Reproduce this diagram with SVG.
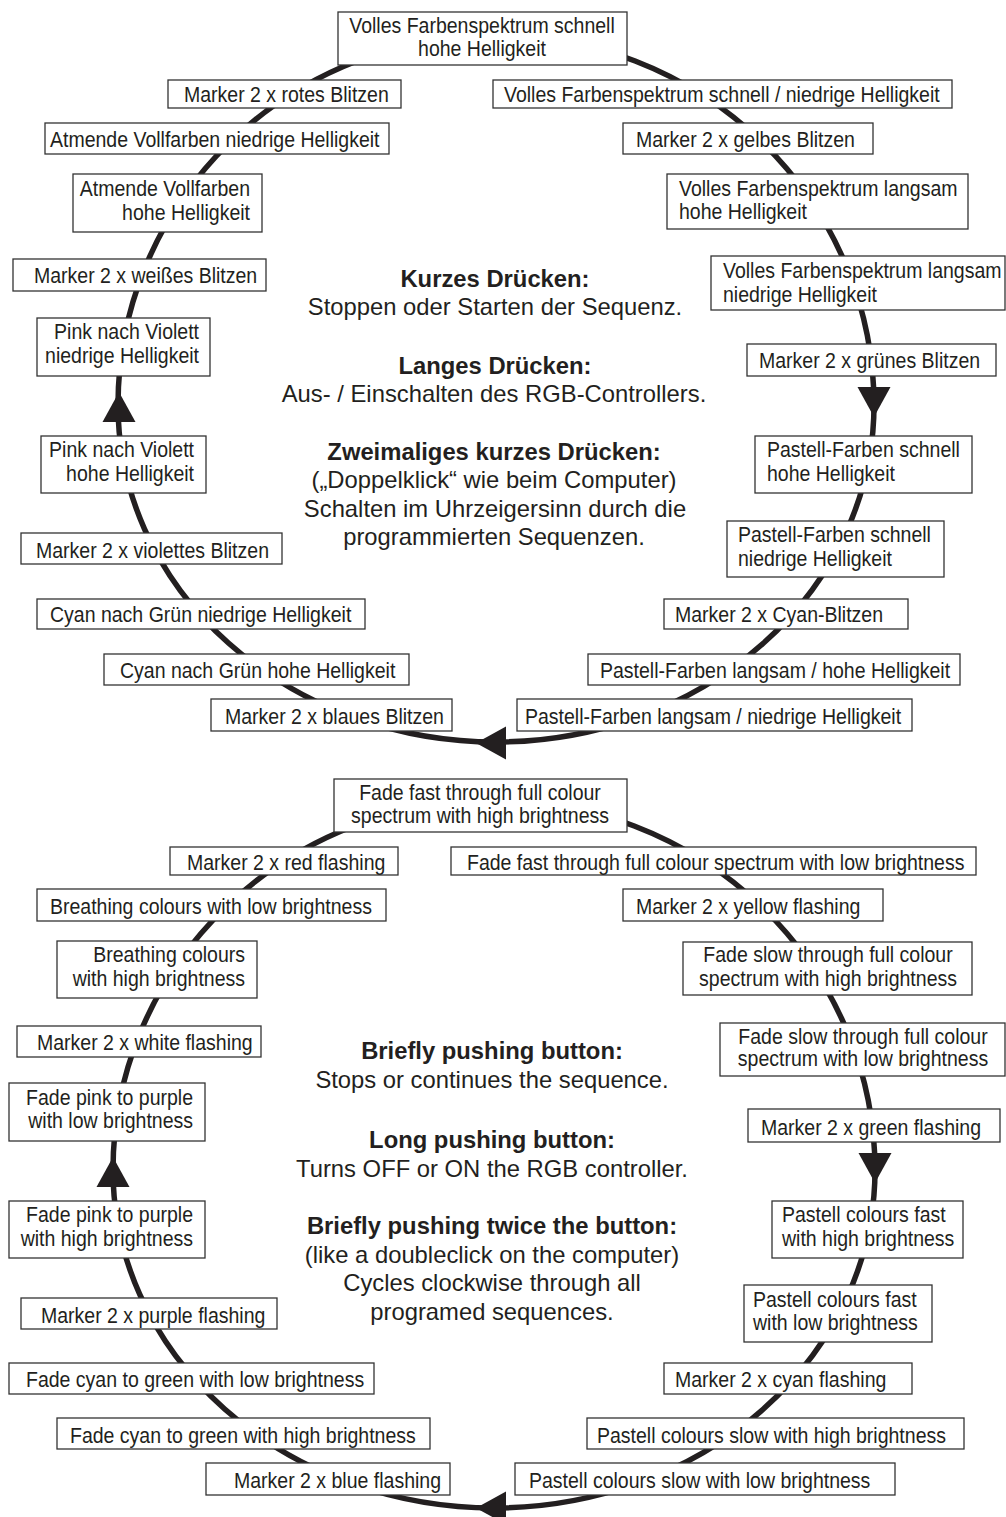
<svg xmlns="http://www.w3.org/2000/svg" xmlns:xlink="http://www.w3.org/1999/xlink" width="1006" height="1517" viewBox="0 0 1006 1517">
<style>
.bg{fill:#ffffff}
.box{fill:#ffffff;stroke:#333333;stroke-width:1.3}
.t{font-family:"Liberation Sans",Arial,sans-serif;font-size:22.5px;fill:#231f20}
.m{text-anchor:middle}
.e{text-anchor:end}
.c{font-family:"Liberation Sans",Arial,sans-serif;font-size:23.8px;fill:#231f20;text-anchor:middle}
.b{font-weight:bold}
.loop{fill:none;stroke:#231f20;stroke-width:5.5}
.ah{fill:#231f20}
</style>
<defs>
<path id="ah" d="M0,0 L-30,-16.5 L-30,16.5 Z"/>
</defs>
<rect class="bg" x="0" y="0" width="1006" height="1517"/>
<g id="connectors">
<path class="loop" d="M118,405 A378,370 0 0 1 874,405 A378,337 0 0 1 118,405 Z"/>
<path class="loop" d="M113,1170 A381,370 0 0 1 875,1170 A381,338 0 0 1 113,1170 Z"/>
<use class="ah" xlink:href="#ah" transform="translate(119,392) rotate(-90)"/>
<use class="ah" xlink:href="#ah" transform="translate(874,417) rotate(90)"/>
<use class="ah" xlink:href="#ah" transform="translate(476,743) rotate(180)"/>
<use class="ah" xlink:href="#ah" transform="translate(113,1157) rotate(-90)"/>
<use class="ah" xlink:href="#ah" transform="translate(875,1183) rotate(90)"/>
<use class="ah" xlink:href="#ah" transform="translate(476,1508) rotate(180)"/>
</g>
<g id="n1"><rect class="box" x="338" y="12" width="289" height="53"/><text class="t m" transform="matrix(.867 0 0 1 482 33)">Volles Farbenspektrum schnell</text><text class="t m" transform="matrix(.867 0 0 1 482 56)">hohe Helligkeit</text></g>
<g id="n2"><rect class="box" x="493" y="80" width="459" height="28"/><text class="t" transform="matrix(.867 0 0 1 504 102)">Volles Farbenspektrum schnell / niedrige Helligkeit</text></g>
<g id="n3"><rect class="box" x="623" y="123" width="250" height="31"/><text class="t" transform="matrix(.867 0 0 1 636 147)">Marker 2 x gelbes Blitzen</text></g>
<g id="n4"><rect class="box" x="667" y="174" width="301" height="55"/><text class="t" transform="matrix(.867 0 0 1 679 196)">Volles Farbenspektrum langsam</text><text class="t" transform="matrix(.867 0 0 1 679 219)">hohe Helligkeit</text></g>
<g id="n5"><rect class="box" x="711" y="256" width="294" height="54"/><text class="t" transform="matrix(.867 0 0 1 723 278)">Volles Farbenspektrum langsam</text><text class="t" transform="matrix(.867 0 0 1 723 302)">niedrige Helligkeit</text></g>
<g id="n6"><rect class="box" x="747" y="344" width="249" height="32"/><text class="t" transform="matrix(.867 0 0 1 759 368)">Marker 2 x grünes Blitzen</text></g>
<g id="n7"><rect class="box" x="755" y="436" width="217" height="57"/><text class="t" transform="matrix(.867 0 0 1 767 457)">Pastell-Farben schnell</text><text class="t" transform="matrix(.867 0 0 1 767 481)">hohe Helligkeit</text></g>
<g id="n8"><rect class="box" x="727" y="521" width="217" height="56"/><text class="t" transform="matrix(.867 0 0 1 738 542)">Pastell-Farben schnell</text><text class="t" transform="matrix(.867 0 0 1 738 566)">niedrige Helligkeit</text></g>
<g id="n9"><rect class="box" x="664" y="599" width="244" height="30"/><text class="t" transform="matrix(.867 0 0 1 675 622)">Marker 2 x Cyan-Blitzen</text></g>
<g id="n10"><rect class="box" x="588" y="654" width="372" height="31"/><text class="t" transform="matrix(.867 0 0 1 600 678)">Pastell-Farben langsam / hohe Helligkeit</text></g>
<g id="n11"><rect class="box" x="517" y="699" width="395" height="32"/><text class="t" transform="matrix(.867 0 0 1 525 724)">Pastell-Farben langsam / niedrige Helligkeit</text></g>
<g id="n12"><rect class="box" x="211" y="699" width="241" height="32"/><text class="t" transform="matrix(.867 0 0 1 225 724)">Marker 2 x blaues Blitzen</text></g>
<g id="n13"><rect class="box" x="104" y="654" width="305" height="31"/><text class="t" transform="matrix(.867 0 0 1 120 678)">Cyan nach Grün hohe Helligkeit</text></g>
<g id="n14"><rect class="box" x="37" y="599" width="328" height="30"/><text class="t" transform="matrix(.867 0 0 1 50 622)">Cyan nach Grün niedrige Helligkeit</text></g>
<g id="n15"><rect class="box" x="21" y="533" width="261" height="31"/><text class="t" transform="matrix(.867 0 0 1 36 558)">Marker 2 x violettes Blitzen</text></g>
<g id="n16"><rect class="box" x="41" y="436" width="165" height="57"/><text class="t e" transform="matrix(.867 0 0 1 194 457)">Pink nach Violett</text><text class="t e" transform="matrix(.867 0 0 1 194 481)">hohe Helligkeit</text></g>
<g id="n17"><rect class="box" x="37" y="318" width="173" height="58"/><text class="t e" transform="matrix(.867 0 0 1 199 339)">Pink nach Violett</text><text class="t e" transform="matrix(.867 0 0 1 199 363)">niedrige Helligkeit</text></g>
<g id="n18"><rect class="box" x="13" y="259" width="253" height="32"/><text class="t" transform="matrix(.867 0 0 1 34 283)">Marker 2 x weißes Blitzen</text></g>
<g id="n19"><rect class="box" x="73" y="174" width="189" height="58"/><text class="t e" transform="matrix(.867 0 0 1 250 196)">Atmende Vollfarben</text><text class="t e" transform="matrix(.867 0 0 1 250 220)">hohe Helligkeit</text></g>
<g id="n20"><rect class="box" x="45" y="123" width="344" height="31"/><text class="t" transform="matrix(.867 0 0 1 50 147)">Atmende Vollfarben niedrige Helligkeit</text></g>
<g id="n21"><rect class="box" x="168" y="80" width="233" height="28"/><text class="t" transform="matrix(.867 0 0 1 184 102)">Marker 2 x rotes Blitzen</text></g>
<g id="legend-de">
<text class="c b" x="495" y="287">Kurzes Drücken:</text>
<text class="c" x="495" y="315">Stoppen oder Starten der Sequenz.</text>
<text class="c b" x="495" y="374">Langes Drücken:</text>
<text class="c" x="494" y="402">Aus- / Einschalten des RGB-Controllers.</text>
<text class="c b" x="494" y="460">Zweimaliges kurzes Drücken:</text>
<text class="c" x="494" y="488">(„Doppelklick“ wie beim Computer)</text>
<text class="c" x="495" y="517">Schalten im Uhrzeigersinn durch die</text>
<text class="c" x="494" y="545">programmierten Sequenzen.</text>
</g>
<g id="e1"><rect class="box" x="334" y="779" width="293" height="53"/><text class="t m" transform="matrix(.867 0 0 1 480 800)">Fade fast through full colour</text><text class="t m" transform="matrix(.867 0 0 1 480 823)">spectrum with high brightness</text></g>
<g id="e2"><rect class="box" x="451" y="847" width="525" height="28"/><text class="t" transform="matrix(.867 0 0 1 467 870)">Fade fast through full colour spectrum with low brightness</text></g>
<g id="e3"><rect class="box" x="623" y="889" width="260" height="32"/><text class="t" transform="matrix(.867 0 0 1 636 914)">Marker 2 x yellow flashing</text></g>
<g id="e4"><rect class="box" x="683" y="942" width="289" height="53"/><text class="t m" transform="matrix(.867 0 0 1 828 962)">Fade slow through full colour</text><text class="t m" transform="matrix(.867 0 0 1 828 986)">spectrum with high brightness</text></g>
<g id="e5"><rect class="box" x="720" y="1023" width="285" height="53"/><text class="t m" transform="matrix(.867 0 0 1 863 1044)">Fade slow through full colour</text><text class="t m" transform="matrix(.867 0 0 1 863 1066)">spectrum with low brightness</text></g>
<g id="e6"><rect class="box" x="748" y="1109" width="252" height="33"/><text class="t" transform="matrix(.867 0 0 1 761 1135)">Marker 2 x green flashing</text></g>
<g id="e7"><rect class="box" x="772" y="1201" width="191" height="57"/><text class="t" transform="matrix(.867 0 0 1 782 1222)">Pastell colours fast</text><text class="t" transform="matrix(.867 0 0 1 782 1246)">with high brightness</text></g>
<g id="e8"><rect class="box" x="744" y="1285" width="188" height="57"/><text class="t" transform="matrix(.867 0 0 1 753 1307)">Pastell colours fast</text><text class="t" transform="matrix(.867 0 0 1 753 1330)">with low brightness</text></g>
<g id="e9"><rect class="box" x="664" y="1363" width="248" height="31"/><text class="t" transform="matrix(.867 0 0 1 675 1387)">Marker 2 x cyan flashing</text></g>
<g id="e10"><rect class="box" x="587" y="1418" width="377" height="31"/><text class="t" transform="matrix(.867 0 0 1 597 1443)">Pastell colours slow with high brightness</text></g>
<g id="e11"><rect class="box" x="515" y="1463" width="380" height="32"/><text class="t" transform="matrix(.867 0 0 1 529 1488)">Pastell colours slow with low brightness</text></g>
<g id="e12"><rect class="box" x="206" y="1463" width="244" height="32"/><text class="t" transform="matrix(.867 0 0 1 234 1488)">Marker 2 x blue flashing</text></g>
<g id="e13"><rect class="box" x="57" y="1418" width="373" height="31"/><text class="t" transform="matrix(.867 0 0 1 70 1443)">Fade cyan to green with high brightness</text></g>
<g id="e14"><rect class="box" x="9" y="1363" width="365" height="31"/><text class="t" transform="matrix(.867 0 0 1 26 1387)">Fade cyan to green with low brightness</text></g>
<g id="e15"><rect class="box" x="21" y="1298" width="256" height="31"/><text class="t" transform="matrix(.867 0 0 1 41 1323)">Marker 2 x purple flashing</text></g>
<g id="e16"><rect class="box" x="9" y="1201" width="196" height="57"/><text class="t e" transform="matrix(.867 0 0 1 193 1222)">Fade pink to purple</text><text class="t e" transform="matrix(.867 0 0 1 193 1246)">with high brightness</text></g>
<g id="e17"><rect class="box" x="9" y="1083" width="196" height="58"/><text class="t e" transform="matrix(.867 0 0 1 193 1105)">Fade pink to purple</text><text class="t e" transform="matrix(.867 0 0 1 193 1128)">with low brightness</text></g>
<g id="e18"><rect class="box" x="17" y="1026" width="244" height="31"/><text class="t" transform="matrix(.867 0 0 1 37 1050)">Marker 2 x white flashing</text></g>
<g id="e19"><rect class="box" x="57" y="941" width="200" height="57"/><text class="t e" transform="matrix(.867 0 0 1 245 962)">Breathing colours</text><text class="t e" transform="matrix(.867 0 0 1 245 986)">with high brightness</text></g>
<g id="e20"><rect class="box" x="37" y="889" width="349" height="32"/><text class="t" transform="matrix(.867 0 0 1 50 914)">Breathing colours with low brightness</text></g>
<g id="e21"><rect class="box" x="170" y="847" width="228" height="28"/><text class="t" transform="matrix(.867 0 0 1 187 870)">Marker 2 x red flashing</text></g>
<g id="legend-en">
<text class="c b" x="492" y="1059">Briefly pushing button:</text>
<text class="c" x="492" y="1088">Stops or continues the sequence.</text>
<text class="c b" x="492" y="1148">Long pushing button:</text>
<text class="c" x="492" y="1177">Turns OFF or ON the RGB controller.</text>
<text class="c b" x="492" y="1234">Briefly pushing twice the button:</text>
<text class="c" x="492" y="1263">(like a doubleclick on the computer)</text>
<text class="c" x="492" y="1291">Cycles clockwise through all</text>
<text class="c" x="492" y="1320">programed sequences.</text>
</g>
</svg>
